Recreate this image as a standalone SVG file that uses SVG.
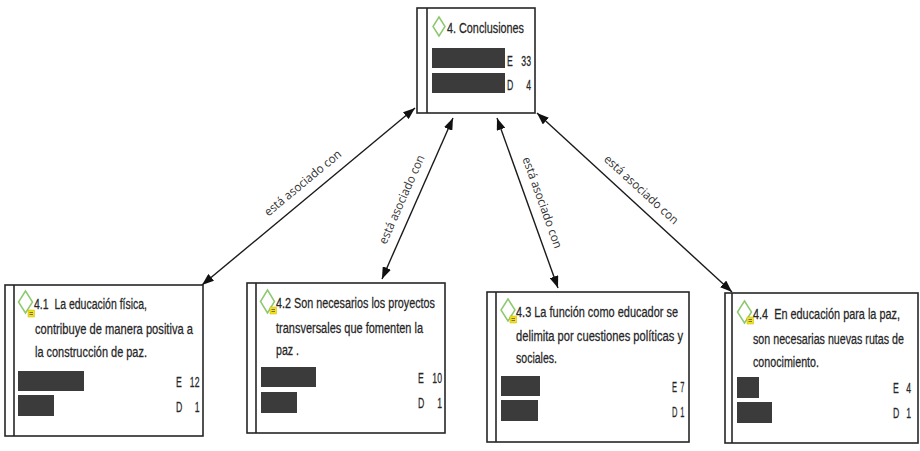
<svg xmlns="http://www.w3.org/2000/svg" width="920" height="451" viewBox="0 0 920 451">
<style>
  .box { fill: #ffffff; stroke: #262626; stroke-width: 1.6; }
  .inner { stroke: #262626; stroke-width: 1.6; }
  .dia { fill: none; stroke: #8dc86f; stroke-width: 1.5; }
  .memo { fill: #f2e11c; stroke: #c9b800; stroke-width: 0.5; }
  .memoline { stroke: #555; stroke-width: 0.8; }
  .bar { fill: #3b3b3b; }
  .t { font-family: "Liberation Sans", Arial, sans-serif; font-size: 14.5px; fill: #262626; stroke: #262626; stroke-width: 0.25; }
  .n { font-family: "Liberation Sans", Arial, sans-serif; font-size: 14.5px; fill: #262626; stroke: #262626; stroke-width: 0.25; }
  .r { text-anchor: end; }
  .lbl { font-family: "Open Sans", "Liberation Sans", Arial, sans-serif; font-size: 12px; fill: #333333; text-anchor: middle; }
  .conn { stroke: #1a1a1a; stroke-width: 1.4; fill: none; marker-start: url(#ah); marker-end: url(#ah); }
</style>
<defs>
  <marker id="ah" viewBox="0 0 12 9" refX="12" refY="4.5" markerWidth="12" markerHeight="9" markerUnits="userSpaceOnUse" orient="auto-start-reverse">
    <path d="M0,0 L12,4.5 L0,9 z" fill="#111111"/>
  </marker>
</defs>
<rect width="920" height="451" fill="#ffffff"/>

<g id="connectors">
  <line class="conn" x1="415" y1="108" x2="202" y2="285"/>
  <line class="conn" x1="453" y1="118" x2="382" y2="279"/>
  <line class="conn" x1="497" y1="118" x2="558" y2="288"/>
  <line class="conn" x1="537" y1="113" x2="732" y2="292"/>
  <text class="lbl" transform="translate(311.7,193.8) rotate(-39.7)" x="0" y="-10" textLength="96" lengthAdjust="spacingAndGlyphs">está asociado con</text>
  <text class="lbl" transform="translate(414.6,205.1) rotate(-66.2)" x="0" y="-10" textLength="96" lengthAdjust="spacingAndGlyphs">está asociado con</text>
  <text class="lbl" transform="translate(529.1,207.3) rotate(70.3)" x="0" y="-10" textLength="96" lengthAdjust="spacingAndGlyphs">está asociado con</text>
  <text class="lbl" transform="translate(631.9,200) rotate(42.5)" x="0" y="-10" textLength="96" lengthAdjust="spacingAndGlyphs">está asociado con</text>
</g>

<g id="node-4">
  <rect class="box" x="417" y="8" width="118" height="105"/>
  <line class="inner" x1="427" y1="8" x2="427" y2="113"/>
  <path class="dia" d="M439,17 L445,26.5 L439,36 L433,26.5 Z"/>
  <text class="t" transform="translate(447,33) scale(0.75,1)" textLength="102.7" lengthAdjust="spacingAndGlyphs">4. Conclusiones</text>
  <rect class="bar" x="432" y="48" width="73" height="20"/>
  <rect class="bar" x="432" y="73" width="73" height="20"/>
  <text class="n" transform="translate(507,66) scale(0.6,1)">E</text>
  <text class="n r" transform="translate(531,66) scale(0.6,1)">33</text>
  <text class="n" transform="translate(507,90) scale(0.6,1)">D</text>
  <text class="n r" transform="translate(531,90) scale(0.6,1)">4</text>
</g>

<g id="node-4-1">
  <rect class="box" x="5" y="285" width="198" height="151"/>
  <line class="inner" x1="14" y1="285" x2="14" y2="436"/>
  <path class="dia" d="M25.5,291 L32.5,302 L25.5,313 L18.5,302 Z"/>
  <rect class="memo" x="28" y="310" width="6.5" height="7"/>
  <line class="memoline" x1="29.5" y1="312.5" x2="33" y2="312.5"/>
  <line class="memoline" x1="29.5" y1="314.5" x2="33" y2="314.5"/>
  <text class="t" transform="translate(34,309) scale(0.75,1)" textLength="150.7" lengthAdjust="spacingAndGlyphs" xml:space="preserve">4.1  La educación física,</text>
  <text class="t" transform="translate(35,334) scale(0.75,1)" textLength="210.7" lengthAdjust="spacingAndGlyphs">contribuye de manera positiva a</text>
  <text class="t" transform="translate(35,357) scale(0.75,1)" textLength="149.3" lengthAdjust="spacingAndGlyphs">la construcción de paz.</text>
  <rect class="bar" x="18" y="371" width="66" height="20"/>
  <rect class="bar" x="18" y="395" width="36" height="21"/>
  <text class="n" transform="translate(176,387) scale(0.6,1)">E</text>
  <text class="n r" transform="translate(199.5,387) scale(0.6,1)">12</text>
  <text class="n" transform="translate(176,412) scale(0.6,1)">D</text>
  <text class="n r" transform="translate(199.5,412) scale(0.6,1)">1</text>
</g>

<g id="node-4-2">
  <rect class="box" x="247" y="283" width="198" height="150"/>
  <line class="inner" x1="256" y1="283" x2="256" y2="433"/>
  <path class="dia" d="M267.5,290 L274.5,301.5 L267.5,313 L260.5,301.5 Z"/>
  <rect class="memo" x="270" y="307" width="6.5" height="7"/>
  <line class="memoline" x1="271.5" y1="309.5" x2="275" y2="309.5"/>
  <line class="memoline" x1="271.5" y1="311.5" x2="275" y2="311.5"/>
  <text class="t" transform="translate(276,308) scale(0.75,1)" textLength="212" lengthAdjust="spacingAndGlyphs">4.2 Son necesarios los proyectos</text>
  <text class="t" transform="translate(276,333) scale(0.75,1)" textLength="196" lengthAdjust="spacingAndGlyphs">transversales que fomenten la</text>
  <text class="t" transform="translate(276,355) scale(0.75,1)" textLength="30.7" lengthAdjust="spacingAndGlyphs">paz .</text>
  <rect class="bar" x="261" y="367" width="55" height="20"/>
  <rect class="bar" x="261" y="392" width="36" height="21"/>
  <text class="n" transform="translate(418,383) scale(0.6,1)">E</text>
  <text class="n r" transform="translate(442,383) scale(0.6,1)">10</text>
  <text class="n" transform="translate(418,408) scale(0.6,1)">D</text>
  <text class="n r" transform="translate(442,408) scale(0.6,1)">1</text>
</g>

<g id="node-4-3">
  <rect class="box" x="487" y="292" width="202" height="150"/>
  <line class="inner" x1="496" y1="292" x2="496" y2="442"/>
  <path class="dia" d="M508,299 L515,310 L508,321 L501,310 Z"/>
  <rect class="memo" x="510" y="316" width="6.5" height="7"/>
  <line class="memoline" x1="511.5" y1="318.5" x2="515" y2="318.5"/>
  <line class="memoline" x1="511.5" y1="320.5" x2="515" y2="320.5"/>
  <text class="t" transform="translate(516,317) scale(0.75,1)" textLength="216" lengthAdjust="spacingAndGlyphs">4.3 La función como educador se</text>
  <text class="t" transform="translate(516,341) scale(0.75,1)" textLength="222.7" lengthAdjust="spacingAndGlyphs">delimita por cuestiones políticas y</text>
  <text class="t" transform="translate(516,363) scale(0.75,1)" textLength="54.7" lengthAdjust="spacingAndGlyphs">sociales.</text>
  <rect class="bar" x="501" y="376" width="39" height="20"/>
  <rect class="bar" x="501" y="400" width="37" height="21"/>
  <text class="n" transform="translate(672,392) scale(0.52,1)">E</text>
  <text class="n r" transform="translate(684.5,392) scale(0.52,1)">7</text>
  <text class="n" transform="translate(672,417) scale(0.52,1)">D</text>
  <text class="n r" transform="translate(684.5,417) scale(0.52,1)">1</text>
</g>

<g id="node-4-4">
  <rect class="box" x="725" y="293" width="193" height="150"/>
  <line class="inner" x1="732" y1="293" x2="732" y2="443"/>
  <path class="dia" d="M744.5,301 L751.5,312 L744.5,323 L737.5,312 Z"/>
  <rect class="memo" x="747" y="317" width="6.5" height="7"/>
  <line class="memoline" x1="748.5" y1="319.5" x2="752" y2="319.5"/>
  <line class="memoline" x1="748.5" y1="321.5" x2="752" y2="321.5"/>
  <text class="t" transform="translate(753,319) scale(0.75,1)" textLength="196" lengthAdjust="spacingAndGlyphs" xml:space="preserve">4.4  En educación para la paz,</text>
  <text class="t" transform="translate(753,344) scale(0.75,1)" textLength="201.3" lengthAdjust="spacingAndGlyphs">son necesarias nuevas rutas de</text>
  <text class="t" transform="translate(753,367) scale(0.75,1)" textLength="88" lengthAdjust="spacingAndGlyphs">conocimiento.</text>
  <rect class="bar" x="737" y="377" width="22" height="21"/>
  <rect class="bar" x="737" y="402" width="35" height="21"/>
  <text class="n" transform="translate(893,393) scale(0.6,1)">E</text>
  <text class="n r" transform="translate(911,393) scale(0.6,1)">4</text>
  <text class="n" transform="translate(893,418) scale(0.6,1)">D</text>
  <text class="n r" transform="translate(911,418) scale(0.6,1)">1</text>
</g>
</svg>
